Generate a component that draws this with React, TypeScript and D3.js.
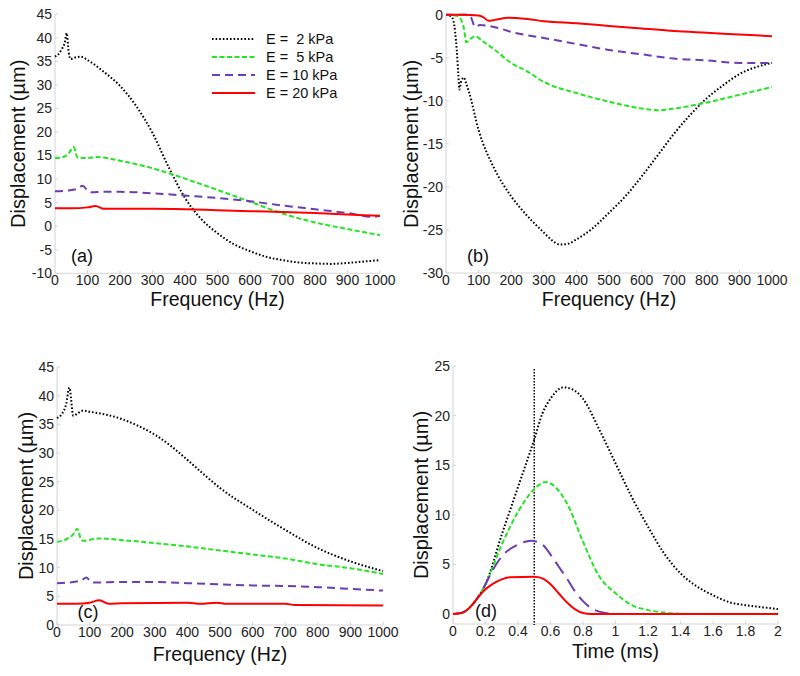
import React from 'react';
import * as d3 from 'd3';

type Pt = [number, number];

// ---------- labels / ticks ----------
const legendLabels = ['E =  2 kPa', 'E =  5 kPa', 'E = 10 kPa', 'E = 20 kPa'];
const seriesColors = ['#000000', '#22e622', '#6b3db5', '#ff0000'];
const freqTicks = [0, 100, 200, 300, 400, 500, 600, 700, 800, 900, 1000];
const timeTicks = [0, 0.2, 0.4, 0.6, 0.8, 1, 1.2, 1.4, 1.6, 1.8, 2];
const timeTickLabels = ['0', '0.2', '0.4', '0.6', '0.8', '1', '1.2', '1.4', '1.6', '1.8', '2'];
const yTicksA = [-10, -5, 0, 5, 10, 15, 20, 25, 30, 35, 40, 45];
const yTicksB = [-30, -25, -20, -15, -10, -5, 0];
const yTicksC = [0, 5, 10, 15, 20, 25, 30, 35, 40, 45];
const yTicksD = [0, 5, 10, 15, 20, 25];
const pulseEnd = 0.5;

// ---------- panel (a) ----------
const aE2: Pt[] = [[0, 36], [10, 36.5], [20, 37.5], [30, 39], [36, 41], [42, 37], [48, 35.5], [60, 35.8], [80, 36], [100, 35.3], [150, 32.8], [200, 29.8], [250, 25.5], [300, 19.8], [350, 12.5], [400, 6], [450, 1.5], [500, -1.5], [550, -3.8], [600, -5.3], [650, -6.5], [700, -7.2], [750, -7.7], [800, -7.9], [850, -8.0], [900, -7.8], [950, -7.5], [1000, -7.2]];
const aE5: Pt[] = [[0, 14.5], [20, 14.6], [40, 15.3], [58, 16.8], [66, 15], [72, 14.5], [100, 14.5], [130, 14.7], [200, 13.9], [300, 12.3], [400, 10.1], [500, 7.7], [600, 5.2], [700, 2.7], [800, 0.8], [900, -0.6], [1000, -1.9]];
const aE10: Pt[] = [[0, 7.4], [40, 7.6], [70, 8], [85, 8.6], [100, 7.6], [112, 7.2], [150, 7.3], [200, 7.3], [300, 7.0], [400, 6.5], [500, 6.0], [600, 5.3], [700, 4.4], [800, 3.6], [900, 2.8], [980, 2.0], [1000, 2.2]];
const aE20: Pt[] = [[0, 3.8], [50, 3.8], [100, 4.0], [125, 4.3], [150, 3.7], [200, 3.7], [300, 3.7], [400, 3.6], [500, 3.4], [600, 3.2], [700, 3.0], [800, 2.8], [900, 2.5], [1000, 2.2]];

// ---------- panel (b) ----------
const bE2: Pt[] = [[0, 0], [15, -0.2], [22, -0.6], [28, -2], [33, -4.1], [38, -7], [41, -8.7], [46, -7.8], [55, -7.3], [62, -8], [70, -8.9], [100, -13.4], [150, -18], [200, -21.1], [250, -23.4], [300, -25.3], [325, -26.2], [350, -26.7], [375, -26.6], [400, -26.1], [450, -24.8], [500, -23], [550, -21.1], [600, -18.8], [650, -16.3], [700, -13.8], [750, -11.6], [800, -9.7], [850, -8.2], [900, -6.9], [950, -6.1], [1000, -5.6]];
const bE5: Pt[] = [[0, 0], [30, -0.1], [45, -0.5], [55, -1.6], [62, -3.2], [75, -2.8], [90, -2.5], [110, -3], [150, -4.1], [200, -5.6], [250, -6.6], [300, -7.8], [400, -9.1], [500, -10.1], [600, -10.9], [650, -11.1], [700, -10.9], [800, -10.2], [900, -9.3], [1000, -8.4]];
const bE10: Pt[] = [[0, 0], [60, 0], [75, -0.2], [89, -1.4], [104, -1.2], [165, -1.6], [200, -2.0], [300, -2.7], [400, -3.4], [500, -4.1], [600, -4.6], [700, -5.1], [800, -5.3], [900, -5.6], [1000, -5.6]];
const bE20: Pt[] = [[0, 0], [50, 0], [100, -0.1], [115, -0.3], [130, -0.7], [150, -0.6], [190, -0.35], [250, -0.5], [300, -0.75], [400, -1.0], [500, -1.3], [600, -1.6], [700, -1.9], [800, -2.1], [900, -2.3], [1000, -2.5]];

// ---------- panel (c) ----------
const cE2: Pt[] = [[0, 36.1], [15, 36.8], [28, 38.5], [38, 41.4], [50, 36.5], [65, 37], [80, 37.4], [100, 37.2], [150, 36.7], [200, 35.9], [250, 34.7], [300, 33.2], [350, 31.2], [400, 28.8], [450, 26.3], [500, 23.9], [600, 20.1], [700, 16.6], [800, 13.4], [900, 11.1], [1000, 9.4]];
const cE5: Pt[] = [[0, 14.5], [30, 15], [50, 15.8], [62, 16.8], [72, 15.2], [80, 14.7], [130, 15.1], [200, 14.8], [300, 14.3], [400, 13.7], [500, 13.0], [600, 12.3], [700, 11.6], [800, 10.6], [900, 9.9], [1000, 8.9]];
const cE10: Pt[] = [[0, 7.3], [50, 7.5], [75, 7.8], [90, 8.3], [100, 7.8], [110, 7.4], [200, 7.5], [300, 7.5], [400, 7.3], [500, 7.1], [600, 6.9], [700, 6.8], [800, 6.6], [900, 6.3], [1000, 6.0]];
const cE20: Pt[] = [[0, 3.7], [60, 3.7], [100, 3.9], [130, 4.3], [160, 3.7], [200, 3.8], [400, 3.9], [440, 3.7], [490, 3.9], [520, 3.7], [700, 3.7], [730, 3.5], [1000, 3.4]];

// ---------- panel (d) ----------
const dE2: Pt[] = [[0, 0], [0.05, 0.1], [0.1, 0.6], [0.15, 1.6], [0.2, 3.0], [0.3, 8.0], [0.4, 12.8], [0.5, 17.6], [0.55, 20.2], [0.6, 21.7], [0.68, 22.85], [0.75, 22.5], [0.8, 21.7], [0.9, 18.6], [1.0, 15.2], [1.1, 11.8], [1.2, 8.8], [1.3, 6.1], [1.4, 4.1], [1.5, 2.8], [1.6, 1.9], [1.7, 1.2], [1.8, 0.9], [1.9, 0.7], [2.0, 0.5]];
const dE5: Pt[] = [[0, 0], [0.05, 0.1], [0.1, 0.6], [0.15, 1.6], [0.2, 3.0], [0.3, 7.0], [0.4, 10.3], [0.5, 12.6], [0.57, 13.3], [0.63, 12.8], [0.7, 11.2], [0.8, 7.3], [0.9, 3.8], [1.0, 2.1], [1.1, 0.9], [1.2, 0.4], [1.3, 0.15], [1.4, 0.03], [1.5, 0], [2.0, 0]];
const dE10: Pt[] = [[0, 0], [0.05, 0.1], [0.1, 0.6], [0.15, 1.6], [0.2, 3.0], [0.25, 4.6], [0.3, 5.8], [0.4, 7.0], [0.48, 7.4], [0.55, 7.0], [0.6, 6.0], [0.65, 4.8], [0.7, 3.6], [0.75, 2.3], [0.8, 1.3], [0.85, 0.6], [0.9, 0.25], [1.0, 0.02], [1.1, 0], [2.0, 0]];
const dE20: Pt[] = [[0, 0], [0.05, 0.1], [0.1, 0.6], [0.15, 1.6], [0.2, 2.5], [0.25, 3.1], [0.3, 3.5], [0.35, 3.7], [0.5, 3.75], [0.55, 3.6], [0.6, 3.0], [0.65, 2.1], [0.7, 1.2], [0.75, 0.5], [0.8, 0.1], [0.85, 0], [2.0, 0]];

const FONT = '"Liberation Sans", Arial, sans-serif';
const dashes = ['1.6,2', '5,2.5', '8,5', ''];

type PanelDef = {
  x0: number; x1: number; yTop: number; yBot: number;
  xDomain: [number, number]; yDomain: [number, number];
  xTicks: number[]; xTickLabels: string[]; yTicks: number[];
  series: Pt[][]; xLabel: string; xLabelY: number; yLabelX: number;
  tag: string; tagX: number; tagY: number;
  dashOverride?: string[]; vline?: number; legend?: boolean;
};

function Panel({ p }: { p: PanelDef }) {
  const x = d3.scaleLinear().domain(p.xDomain).range([p.x0, p.x1]);
  const y = d3.scaleLinear().domain(p.yDomain).range([p.yBot, p.yTop]);
  const line = d3.line<Pt>().x(d => x(d[0])).y(d => y(d[1])).curve(d3.curveMonotoneX);
  const axisColor = '#d4d4d4';
  const ds = p.dashOverride || dashes;
  return (
    <g fontFamily={FONT}>
      <line x1={p.x0} x2={p.x0} y1={p.yTop} y2={p.yBot} stroke={axisColor} />
      <line x1={p.x0} x2={p.x1} y1={p.yBot} y2={p.yBot} stroke={axisColor} />
      {p.xTicks.map((t, i) => (
        <g key={'xt' + i}>
          <line x1={x(t)} x2={x(t)} y1={p.yBot} y2={p.yBot - 3} stroke={axisColor} />
          <text x={x(t)} y={p.yBot + 12} fontSize={14} textAnchor="middle" fill="#222">{p.xTickLabels[i]}</text>
        </g>
      ))}
      {p.yTicks.map((t, i) => (
        <g key={'yt' + i}>
          <line x1={p.x0} x2={p.x0 + 3} y1={y(t)} y2={y(t)} stroke={axisColor} />
          <text x={p.x0 - 3} y={y(t)} dy="0.35em" fontSize={14} textAnchor="end" fill="#222">{String(t)}</text>
        </g>
      ))}
      <text x={(p.x0 + p.x1) / 2} y={p.xLabelY} fontSize={19.5} textAnchor="middle" fill="#111">{p.xLabel}</text>
      <text transform={`translate(${p.yLabelX},${(p.yTop + p.yBot) / 2}) rotate(-90)`} fontSize={20} textAnchor="middle" fill="#111">Displacement (µm)</text>
      <text x={p.tagX} y={p.tagY} dy="0.35em" fontSize={18} textAnchor="middle" fill="#111">{p.tag}</text>
      {p.vline !== undefined && (
        <line x1={x(p.vline)} x2={x(p.vline)} y1={p.yTop + 3} y2={p.yBot + 1} stroke="#000" strokeWidth={1.5} strokeDasharray="1.5,1.5" />
      )}
      {p.series.map((s, i) => (
        <path key={'s' + i} d={line(s) || ''} fill="none" stroke={seriesColors[i]} strokeWidth={2}
          strokeDasharray={ds[i] || undefined} />
      ))}
      {p.legend && legendLabels.map((l, i) => (
        <g key={'lg' + i}>
          <line x1={212} x2={255} y1={39 + i * 18} y2={39 + i * 18} stroke={seriesColors[i]} strokeWidth={2}
            strokeDasharray={dashes[i] || undefined} />
          <text x={266} y={39 + i * 18} dy="0.36em" fontSize={14.5} fill="#111" style={{ whiteSpace: 'pre' }}>{l}</text>
        </g>
      ))}
    </g>
  );
}

const freqLabels = freqTicks.map(String);

const panels: PanelDef[] = [
  {
    x0: 55, x1: 380, yTop: 14.3, yBot: 273.3, xDomain: [0, 1000], yDomain: [-10, 45],
    xTicks: freqTicks, xTickLabels: freqLabels, yTicks: yTicksA, series: [aE2, aE5, aE10, aE20],
    xLabel: 'Frequency (Hz)', xLabelY: 306, yLabelX: 25, tag: '(a)', tagX: 82, tagY: 256, legend: true,
  },
  {
    x0: 446, x1: 772, yTop: 14.7, yBot: 273, xDomain: [0, 1000], yDomain: [-30, 0],
    xTicks: freqTicks, xTickLabels: freqLabels, yTicks: yTicksB, series: [bE2, bE5, bE10, bE20],
    xLabel: 'Frequency (Hz)', xLabelY: 306, yLabelX: 418, tag: '(b)', tagX: 478, tagY: 256,
  },
  {
    x0: 57, x1: 383, yTop: 367, yBot: 625, xDomain: [0, 1000], yDomain: [0, 45],
    xTicks: freqTicks, xTickLabels: freqLabels, yTicks: yTicksC, series: [cE2, cE5, cE10, cE20],
    xLabel: 'Frequency (Hz)', xLabelY: 661, yLabelX: 33, tag: '(c)', tagX: 88, tagY: 612,
  },
  {
    x0: 453, x1: 778, yTop: 366, yBot: 624, xDomain: [0, 2], yDomain: [-1, 25],
    xTicks: timeTicks, xTickLabels: timeTickLabels, yTicks: yTicksD, series: [dE2, dE5, dE10, dE20],
    xLabel: 'Time (ms)', xLabelY: 658, yLabelX: 428, tag: '(d)', tagX: 486, tagY: 611,
    dashOverride: ['1.6,2', '5,2.5', '14,7', ''], vline: pulseEnd,
  },
];

export default function App() {
  return (
    <svg width={800} height={676} style={{ position: 'absolute', left: 0, top: 0, background: '#fff' }}>
      <rect width={800} height={676} fill="#fff" />
      {panels.map((p, i) => <Panel key={i} p={p} />)}
    </svg>
  );
}
